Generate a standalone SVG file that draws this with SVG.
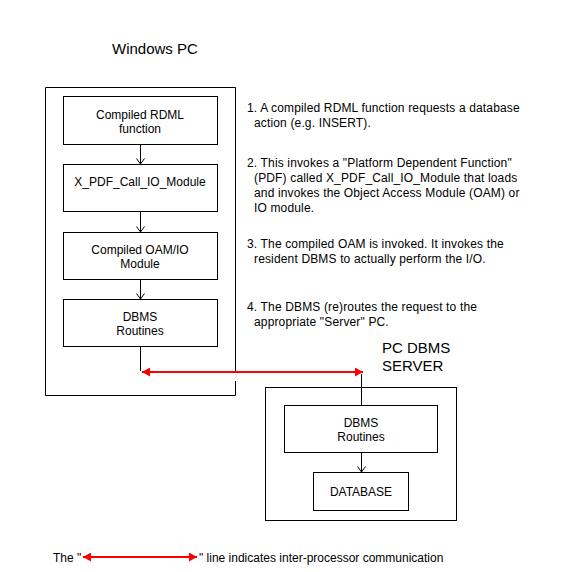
<svg xmlns="http://www.w3.org/2000/svg" width="561" height="572" viewBox="0 0 561 572">
<style>
text{font-family:"Liberation Sans",Arial,sans-serif;fill:#000}
.t{font-size:12px;letter-spacing:0.15px}
.l{font-size:12px}
.c{font-size:12px;text-anchor:middle}
.h{font-size:15px}
.box{fill:#fff;stroke:#000;stroke-width:1}
.ln{fill:none;stroke:#000;stroke-width:1}
.red{fill:none;stroke:#f00;stroke-width:2}
</style>
<defs>
<marker id="v" markerWidth="8" markerHeight="10" refX="6" refY="5" orient="auto" markerUnits="userSpaceOnUse" viewBox="0 0 8 10">
<path d="M0.5,1 L6,5 L0.5,9" fill="none" stroke="#000" stroke-width="1"/>
</marker>
<marker id="rh" markerWidth="9" markerHeight="9" refX="8" refY="4.5" orient="auto-start-reverse" markerUnits="userSpaceOnUse" viewBox="0 0 9 9">
<path d="M0,0 L8,4.5 L0,9 Z" fill="#f00"/>
</marker>
</defs>
<rect width="561" height="572" fill="#fff"/>

<g id="windows-pc">
<path class="box" fill="none" d="M235.5,381 V395.5 H45.5 V87.5 H235.5 V372"/>
<text class="h" x="112" y="54">Windows PC</text>
</g>

<g id="rdml">
<rect class="box" x="63.5" y="96.5" width="154" height="48"/>
<text class="c" x="140" y="119">Compiled RDML</text>
<text class="c" x="140" y="133">function</text>
</g>
<g id="xpdf">
<rect class="box" x="63.5" y="164.5" width="154" height="47"/>
<text class="c" x="140" y="186">X_PDF_Call_IO_Module</text>
</g>
<g id="oam">
<rect class="box" x="63.5" y="232.5" width="154" height="47"/>
<text class="c" x="140" y="254">Compiled OAM/IO</text>
<text class="c" x="140" y="268">Module</text>
</g>
<g id="dbms-local">
<rect class="box" x="63.5" y="299.5" width="154" height="47"/>
<text class="c" x="140" y="321">DBMS</text>
<text class="c" x="140" y="335">Routines</text>
</g>

<g id="server">
<rect class="box" x="265.5" y="387.5" width="191" height="133"/>
<text class="h" x="382" y="353">PC DBMS</text>
<text class="h" x="382" y="371">SERVER</text>
</g>
<g id="dbms-server">
<rect class="box" x="284.5" y="405.5" width="153" height="47"/>
<text class="c" x="361" y="427">DBMS</text>
<text class="c" x="361" y="441">Routines</text>
</g>
<g id="database">
<rect class="box" x="313.5" y="472.5" width="95" height="38"/>
<text class="c" x="361" y="496">DATABASE</text>
</g>

<g id="connectors">
<line class="ln" x1="140.5" y1="145" x2="140.5" y2="164" marker-end="url(#v)"/>
<line class="ln" x1="140.5" y1="212" x2="140.5" y2="232" marker-end="url(#v)"/>
<line class="ln" x1="140.5" y1="280" x2="140.5" y2="299" marker-end="url(#v)"/>
<line class="ln" x1="140.5" y1="347" x2="140.5" y2="371"/>
<line class="ln" x1="361.5" y1="374" x2="361.5" y2="405"/>
<line class="ln" x1="361.5" y1="453" x2="361.5" y2="472" marker-end="url(#v)"/>
<line class="red" x1="142" y1="372" x2="363" y2="372" marker-start="url(#rh)" marker-end="url(#rh)"/>
</g>

<g id="notes">
<text class="t" x="247" y="112">1. A compiled RDML function requests a database</text>
<text class="t" x="254" y="127">action (e.g. INSERT).</text>
<text class="t" x="247" y="167">2. This invokes a "Platform Dependent Function"</text>
<text class="t" x="254" y="182">(PDF) called X_PDF_Call_IO_Module that loads</text>
<text class="t" x="254" y="197">and invokes the Object Access Module (OAM) or</text>
<text class="t" x="254" y="212">IO module.</text>
<text class="t" x="247" y="248">3. The compiled OAM is invoked. It invokes the</text>
<text class="t" x="254" y="263">resident DBMS to actually perform the I/O.</text>
<text class="t" x="247" y="311">4. The DBMS (re)routes the request to the</text>
<text class="t" x="254" y="326">appropriate "Server" PC.</text>
</g>

<g id="legend">
<text class="l" x="53" y="562">The "</text>
<line class="red" x1="83" y1="557" x2="197" y2="557" marker-start="url(#rh)" marker-end="url(#rh)"/>
<text class="l" x="199" y="562">" line indicates inter-processor communication</text>
</g>
</svg>
